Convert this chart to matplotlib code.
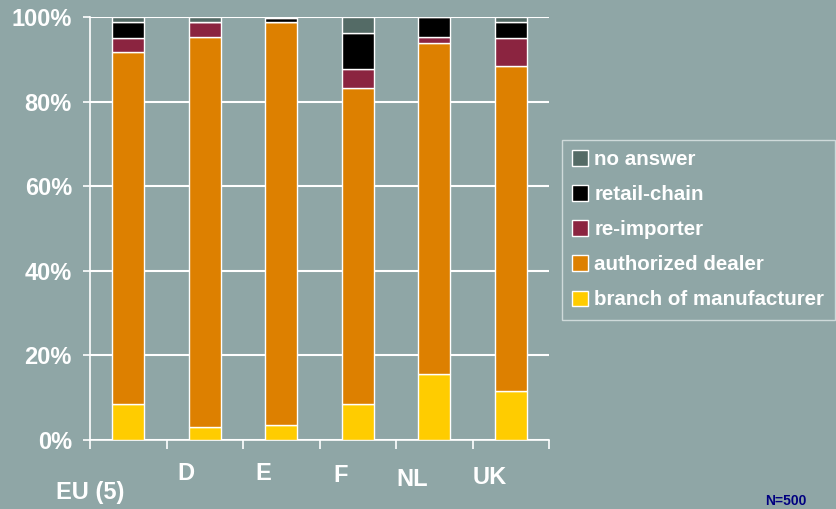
import matplotlib
matplotlib.use("Agg")
from matplotlib import pyplot as plt
import matplotlib.transforms as mtrans
import numpy as np

"""
    Stacked bars: distribution channel by country
"""

countries = ["EU (5)", "D", "E", "F", "NL", "UK"]
series_names = ["branch of manufacturer", "authorized dealer", "re-importer",
                "retail-chain", "no answer"]
branch = [8.4, 3.1, 3.5, 8.4, 15.6, 11.5]
dealer = [83.4, 92.2, 95.2, 74.7, 78.2, 76.8]
reimporter = [3.3, 3.4, 0.0, 4.5, 1.4, 6.8]
retail = [3.6, 0.0, 1.1, 8.6, 4.8, 3.7]
no_answer = [1.3, 1.3, 0.2, 3.8, 0.0, 1.2]
yticks = [0, 20, 40, 60, 80, 100]
ytick_labels = ["0%", "20%", "40%", "60%", "80%", "100%"]

colors = ["#FFCC00", "#DD8000", "#8B2440", "#000000", "#546B66"]
bg = "#8FA6A6"

plt.rcParams['font.family'] = ['Liberation Sans', 'DejaVu Sans']

fig = plt.figure(figsize=(8.36, 5.09), dpi=100, facecolor=bg)
ax = fig.add_axes([90/836, 69/509, 459/836, 423/509], facecolor=bg)

x = np.arange(len(countries))
bottom = np.zeros(len(countries))
handles = []
for name, vals, c in zip(series_names, [branch, dealer, reimporter, retail, no_answer], colors):
    b = ax.bar(x, vals, 0.42, bottom=bottom, color=c, edgecolor="white",
               linewidth=1, label=name, zorder=3)
    handles.append(b)
    bottom += np.array(vals)

ax.set_xlim(-0.5, 5.5)
ax.set_ylim(0, 100)
ax.set_yticks(yticks)
ax.set_yticklabels(ytick_labels, fontsize=17, fontweight="bold", color="white")
ax.yaxis.grid(True, color="white", linewidth=1.5, zorder=0)
ax.set_xticks(np.arange(-0.5, 6, 1))
ax.set_xticklabels([])
ax.tick_params(axis="x", direction="out", length=6.5, width=1.2, color="white")
ax.tick_params(axis="y", direction="out", length=5, width=1.2, color="white", pad=8)
for s in ["top", "right"]:
    ax.spines[s].set_visible(False)
for s in ["left", "bottom"]:
    ax.spines[s].set_color("white")
    ax.spines[s].set_linewidth(1.2)

# staggered category labels, as in the original
label_x = [-0.5, 0.75, 1.76, 2.77, 3.71, 4.72]
label_y = [492, 474, 474, 475, 479, 477]
trans = mtrans.blended_transform_factory(ax.transData, fig.transFigure)
for name, lx, ly in zip(countries, label_x, label_y):
    ax.text(lx, 1 - ly/509, name, transform=trans,
            ha="center", va="center", fontsize=17, fontweight="bold", color="white")

leg = fig.legend(handles[::-1], series_names[::-1], loc="upper left",
                 bbox_to_anchor=(562/836, 1 - 140/509), frameon=True,
                 prop={"weight": "bold", "size": 14.8},
                 handlelength=0.78, handleheight=0.78, handletextpad=0.3,
                 labelspacing=0.78, borderpad=0.5, borderaxespad=0)
leg.get_frame().set_facecolor(bg)
leg.get_frame().set_edgecolor("#E0E8E8")
leg.get_frame().set_linewidth(1)
leg.get_frame().set_boxstyle("square", pad=0)
for t in leg.get_texts():
    t.set_color("white")

fig.text(765/836, 1/509, "N=500", color="#000080", fontsize=10,
         fontweight="bold", ha="left", va="bottom")

fig.savefig("out.png", dpi=100, facecolor=bg)
